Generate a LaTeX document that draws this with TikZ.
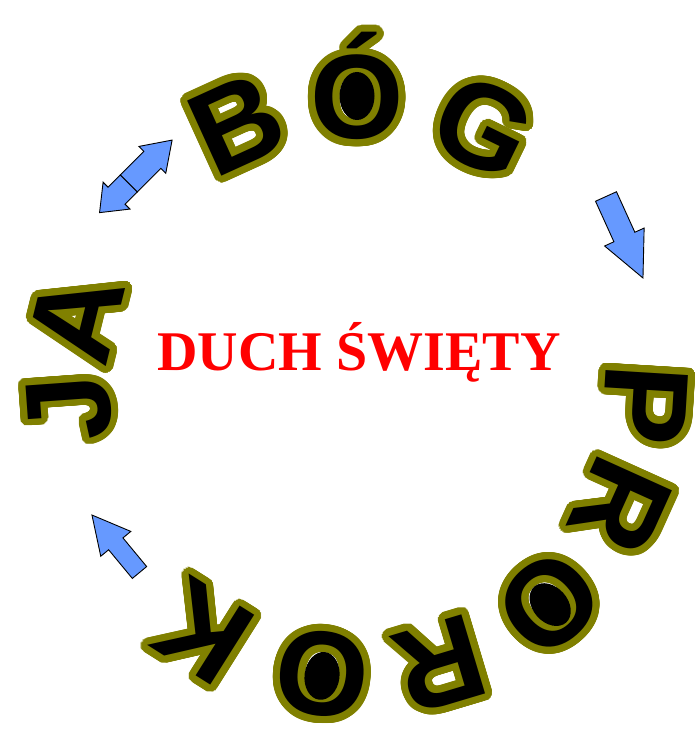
\documentclass[tikz,border=0pt]{standalone}
\usepackage{fontspec}
\setmainfont{Liberation Serif}
\newfontfamily\letterfont{Liberation Sans}
\usepackage[copies]{contour}
\contourlength{7pt}
\contournumber{48}
\definecolor{ringolive}{HTML}{808000}
\definecolor{arrowblue}{HTML}{6699FF}
\definecolor{titlered}{HTML}{FF0000}
\tikzset{
  ringletter/.style={font=\letterfont\bfseries\fontsize{120}{120}\selectfont,
    text height=86pt, text depth=0pt, inner sep=0pt},
  arrowbody/.style={draw=black, line width=0.9pt, fill=arrowblue, line join=miter},
  pics/blockarrow/.style n args={4}{code={
    \draw[arrowbody] (0,-#2) -- (#1-#4,-#2) -- (#1-#4,-#3) -- (#1,0)
      -- (#1-#4,#3) -- (#1-#4,#2) -- (0,#2) -- cycle;
  }},
}
\newcommand{\rl}[1]{\contour{ringolive}{#1}}

\begin{document}
\begin{tikzpicture}[x=1pt,y=1pt]
  \useasboundingbox (0,0) rectangle (697,729);
  \coordinate (ring) at (357,342);
  % BOG
  \node[ringletter, rotate=24.5] (b) at ([shift={(114.5:291)}]ring) {\rl{B}};
  \node[ringletter, rotate=0] (o) at ([shift={(90:291)}]ring) {\rl{Ó}};
  \node[ringletter, rotate=-26] (g) at ([shift={(64:291)}]ring) {\rl{G}};
  % PROROK
  \node[ringletter, rotate=-93.5] (p) at ([shift={(-3.5:291)}]ring) {\rl{P}};
  \node[ringletter, rotate=-114.3] (r1) at ([shift={(-24.3:291)}]ring) {\rl{R}};
  \node[ringletter, rotate=-138.4] (o1) at ([shift={(-48.4:291)}]ring) {\rl{O}};
  \node[ringletter, rotate=-163.3] (r2) at ([shift={(-73.3:291)}]ring) {\rl{R}};
  \node[ringletter, rotate=-186.9] (o2) at ([shift={(-96.9:291)}]ring) {\rl{O}};
  \node[ringletter, rotate=-212.2] (k) at ([shift={(-122.2:291)}]ring) {\rl{K}};
  % JA
  \node[ringletter, rotate=94.1] (j) at ([shift={(184.1:291)}]ring) {\rl{J}};
  \node[ringletter, rotate=76.1] (a) at ([shift={(166.1:291)}]ring) {\rl{A}};
  % filled counters of the O's
  \fill[black] (o) ellipse (17.5 and 24);
  \fill[black, rotate=-138.4] (o1) ellipse (17.5 and 24);
  \fill[black, rotate=-186.9] (o2) ellipse (17.5 and 24);

  \node[font=\bfseries\fontsize{56}{56}\selectfont, text=titlered,
    text height=37pt, text depth=0pt, inner sep=0pt] (title) at (359,376.5) {DUCH ŚWIĘTY};

  % arrows
  \pic[rotate=-65.6] at (606,532.5) {blockarrow={89.5}{11.5}{21.7}{45}};
  \pic[rotate=129.6] at (139.5,156.5) {blockarrow={74.6}{9.3}{19.5}{37.4}};
  \pic[rotate=45] at (128.7,545.5) {blockarrow={61.4}{12}{19}{28}};
  \pic[rotate=225] at (128.7,545.5) {blockarrow={41.2}{12}{19}{24}};
\end{tikzpicture}
\end{document}
